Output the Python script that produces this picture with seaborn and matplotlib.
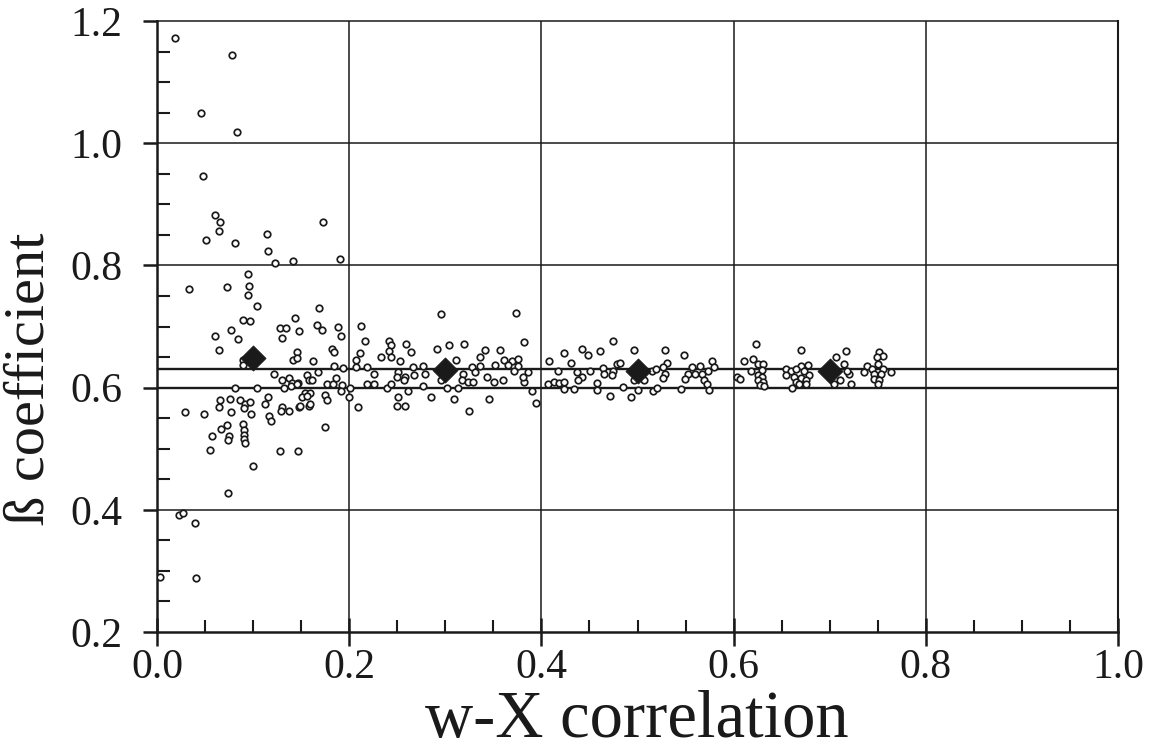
import numpy as np
import pandas as pd
import matplotlib
matplotlib.use("Agg")
import matplotlib.pyplot as plt
import seaborn as sns
from matplotlib.ticker import MultipleLocator, FixedLocator

# Individual simulation estimates: w-X correlation vs. beta coefficient
corr = [
    0.019, 0.078, 0.046, 0.083, 0.048,
    0.060, 0.066, 0.065, 0.051, 0.081, 0.114, 0.115, 0.123, 0.141, 0.095,
    0.033, 0.073, 0.096, 0.095, 0.104, 0.089, 0.097, 0.144, 0.077, 0.128,
    0.134, 0.148, 0.060, 0.084, 0.130, 0.064, 0.146, 0.089, 0.141, 0.089,
    0.122, 0.137, 0.140, 0.147, 0.081, 0.104, 0.132, 0.139, 0.066, 0.076,
    0.086, 0.116,
    0.092, 0.097, 0.064, 0.091, 0.029, 0.049, 0.077, 0.098, 0.112, 0.117,
    0.119, 0.130, 0.129, 0.137, 0.148, 0.073, 0.067, 0.090, 0.091, 0.057,
    0.075, 0.074, 0.091, 0.091, 0.092, 0.055, 0.128, 0.147, 0.100, 0.074,
    0.023, 0.027, 0.040, 0.003, 0.041,
    0.169, 0.167, 0.172, 0.188, 0.191, 0.212, 0.216, 0.182, 0.184, 0.146,
    0.162, 0.211, 0.207, 0.184, 0.194, 0.207, 0.219, 0.168, 0.130, 0.146,
    0.156, 0.158, 0.161, 0.177, 0.183, 0.186, 0.193, 0.154, 0.159, 0.151,
    0.156, 0.175, 0.177, 0.191, 0.200, 0.149, 0.158, 0.159, 0.209, 0.175,
    0.226, 0.226, 0.218, 0.239, 0.233, 0.241, 0.243, 0.241, 0.243, 0.259,
    0.264, 0.253, 0.251, 0.250, 0.258, 0.257, 0.244, 0.261, 0.251, 0.250,
    0.258, 0.266, 0.267, 0.277, 0.279, 0.277, 0.285, 0.291, 0.296, 0.304,
    0.311, 0.295, 0.302, 0.309, 0.201, 0.173, 0.190,
    0.374, 0.319, 0.341, 0.357, 0.382, 0.336, 0.361, 0.369, 0.376, 0.328,
    0.336, 0.352, 0.365, 0.376, 0.318, 0.331, 0.371, 0.386, 0.317, 0.324,
    0.329, 0.343, 0.351, 0.360, 0.382, 0.381, 0.313, 0.390, 0.345, 0.325,
    0.394,
    0.408, 0.424, 0.431, 0.442, 0.449, 0.461, 0.475, 0.479, 0.417, 0.437,
    0.442, 0.451, 0.464, 0.465, 0.474, 0.473, 0.438, 0.407, 0.413, 0.418,
    0.424, 0.423, 0.434, 0.458, 0.458, 0.471, 0.485, 0.493,
    0.496, 0.482, 0.529, 0.548, 0.531, 0.527, 0.515, 0.519, 0.529, 0.527,
    0.496, 0.507, 0.500, 0.516, 0.520, 0.545, 0.557, 0.565, 0.578, 0.580,
    0.553, 0.560, 0.567, 0.573, 0.549, 0.569, 0.572, 0.574,
    0.611, 0.623, 0.620, 0.625, 0.631, 0.618, 0.630, 0.604, 0.607, 0.625,
    0.630, 0.625, 0.631, 0.627, 0.632,
    0.670, 0.677, 0.670, 0.654, 0.660, 0.665, 0.673, 0.678, 0.654, 0.663,
    0.670, 0.675, 0.665, 0.668, 0.661, 0.675,
    0.717, 0.707, 0.715, 0.720, 0.711, 0.704, 0.722, 0.718,
    0.751, 0.755, 0.749, 0.750, 0.739, 0.744, 0.755, 0.736, 0.764, 0.746,
    0.753, 0.746, 0.751, 0.750,
]
beta = [
    1.173, 1.145, 1.049, 1.018, 0.946,
    0.882, 0.871, 0.856, 0.841, 0.836, 0.851, 0.823, 0.804, 0.808, 0.786,
    0.762, 0.764, 0.766, 0.751, 0.734, 0.711, 0.709, 0.714, 0.695, 0.697,
    0.697, 0.693, 0.684, 0.679, 0.682, 0.661, 0.658, 0.645, 0.646, 0.637,
    0.623, 0.616, 0.607, 0.607, 0.600, 0.600, 0.600, 0.603, 0.580, 0.581,
    0.580, 0.584,
    0.574, 0.576, 0.569, 0.566, 0.560, 0.556, 0.560, 0.556, 0.574, 0.553,
    0.545, 0.568, 0.561, 0.561, 0.569, 0.538, 0.533, 0.540, 0.531, 0.520,
    0.521, 0.514, 0.523, 0.516, 0.509, 0.498, 0.496, 0.496, 0.472, 0.428,
    0.391, 0.395, 0.378, 0.290, 0.288,
    0.731, 0.703, 0.695, 0.699, 0.685, 0.701, 0.676, 0.663, 0.658, 0.649,
    0.643, 0.656, 0.645, 0.635, 0.632, 0.634, 0.633, 0.625, 0.612, 0.606,
    0.621, 0.613, 0.613, 0.606, 0.606, 0.615, 0.605, 0.592, 0.592, 0.584,
    0.587, 0.588, 0.580, 0.595, 0.584, 0.570, 0.570, 0.574, 0.569, 0.535,
    0.622, 0.606, 0.606, 0.600, 0.650, 0.677, 0.669, 0.660, 0.650, 0.671,
    0.659, 0.644, 0.625, 0.617, 0.617, 0.612, 0.606, 0.595, 0.584, 0.570,
    0.570, 0.633, 0.620, 0.636, 0.623, 0.603, 0.584, 0.663, 0.720, 0.669,
    0.646, 0.612, 0.600, 0.581, 0.600, 0.871, 0.810,
    0.722, 0.672, 0.662, 0.661, 0.674, 0.650, 0.645, 0.644, 0.647, 0.633,
    0.635, 0.637, 0.637, 0.636, 0.623, 0.625, 0.628, 0.625, 0.613, 0.610,
    0.609, 0.617, 0.610, 0.613, 0.609, 0.618, 0.599, 0.594, 0.582, 0.562,
    0.575,
    0.644, 0.656, 0.641, 0.664, 0.654, 0.660, 0.676, 0.639, 0.628, 0.625,
    0.618, 0.628, 0.632, 0.623, 0.628, 0.620, 0.612, 0.606, 0.609, 0.607,
    0.609, 0.597, 0.598, 0.607, 0.596, 0.587, 0.601, 0.585,
    0.661, 0.640, 0.662, 0.654, 0.641, 0.633, 0.628, 0.630, 0.623, 0.615,
    0.612, 0.613, 0.596, 0.594, 0.600, 0.598, 0.634, 0.636, 0.643, 0.634,
    0.623, 0.622, 0.622, 0.627, 0.614, 0.612, 0.606, 0.596,
    0.644, 0.672, 0.647, 0.639, 0.638, 0.628, 0.629, 0.618, 0.614, 0.620,
    0.618, 0.612, 0.609, 0.605, 0.603,
    0.661, 0.637, 0.636, 0.630, 0.628, 0.630, 0.628, 0.621, 0.620, 0.617,
    0.615, 0.612, 0.609, 0.606, 0.600, 0.606,
    0.660, 0.650, 0.639, 0.622, 0.612, 0.606, 0.606, 0.627,
    0.658, 0.652, 0.650, 0.639, 0.636, 0.630, 0.630, 0.625, 0.625, 0.622,
    0.623, 0.614, 0.613, 0.606,
]

# Mean estimate for each correlation level
mean_corr = [0.1, 0.3, 0.5, 0.7]
mean_beta = [0.648, 0.629, 0.627, 0.628]

# Reference levels drawn as horizontal lines
ref_levels = [0.60, 0.63]

x_ticks = [0.0, 0.2, 0.4, 0.6, 0.8, 1.0]
x_tick_labels = ["0.0", "0.2", "0.4", "0.6", "0.8", "1.0"]
y_ticks = [0.2, 0.4, 0.6, 0.8, 1.0, 1.2]
y_tick_labels = ["0.2", "0.4", "0.6", "0.8", "1.0", "1.2"]

points = pd.DataFrame({"corr": corr, "beta": beta})
means = pd.DataFrame({"corr": mean_corr, "beta": mean_beta})

sns.set_theme(style="white")
plt.rcParams["font.family"] = ["Liberation Serif", "DejaVu Serif"]

ink = "#1a1a1a"
fig = plt.figure(figsize=(11.57, 7.54), dpi=100)
ax = fig.add_axes([0.1357, 0.1618, 0.8306, 0.8103])
ax.set_facecolor("white")

ax.set_xlim(0.0, 1.0)
ax.set_ylim(0.2, 1.2)

# Grid lines
for gx in x_ticks[1:-1]:
    ax.axvline(gx, color=ink, lw=1.1, zorder=1)
for gy in y_ticks[1:-1]:
    ax.axhline(gy, color=ink, lw=1.1, zorder=1)
for ry in ref_levels:
    ax.axhline(ry, color=ink, lw=1.7, zorder=1.5)

sns.scatterplot(data=points, x="corr", y="beta", ax=ax, marker="o", s=22,
                color="white", edgecolor=ink, linewidth=1.25, zorder=3,
                legend=False)
sns.scatterplot(data=means, x="corr", y="beta", ax=ax, marker="D", s=165,
                color=ink, edgecolor=ink, linewidth=0.5, zorder=4,
                legend=False)

# Axes frame
for side in ["left", "bottom"]:
    ax.spines[side].set_linewidth(1.8)
    ax.spines[side].set_color(ink)
ax.spines["right"].set_linewidth(1.5)
ax.spines["right"].set_color(ink)
ax.spines["top"].set_linewidth(1.1)
ax.spines["top"].set_color(ink)

ax.xaxis.set_major_locator(FixedLocator(x_ticks))
ax.yaxis.set_major_locator(FixedLocator(y_ticks))
ax.set_xticklabels(x_tick_labels)
ax.set_yticklabels(y_tick_labels)
ax.xaxis.set_minor_locator(MultipleLocator(0.05))
ax.yaxis.set_minor_locator(MultipleLocator(0.05))

ax.tick_params(axis="x", which="major", direction="inout", length=20,
               width=1.8, color=ink, labelsize=30, pad=2, labelcolor=ink,
               top=False, bottom=True)
ax.tick_params(axis="x", which="minor", direction="in", length=8.5,
               width=1.5, color=ink, top=False, bottom=True)
ax.tick_params(axis="y", which="major", direction="out", length=10,
               width=1.8, color=ink, labelsize=30, pad=15, labelcolor=ink,
               left=True, right=False)
ax.tick_params(axis="y", which="minor", direction="in", length=9,
               width=1.5, color=ink, left=True, right=False)

ax.set_xlabel("w-X correlation", fontsize=48, color=ink)
ax.set_ylabel("ß coefficient", fontsize=42, color=ink)
ax.xaxis.label.set_va("baseline")
ax.yaxis.label.set_va("center")
ax.xaxis.set_label_coords(0.4995, -0.1715)
ax.yaxis.set_label_coords(-0.133, 0.414)

fig.savefig("out.png", dpi=100, facecolor="white")
